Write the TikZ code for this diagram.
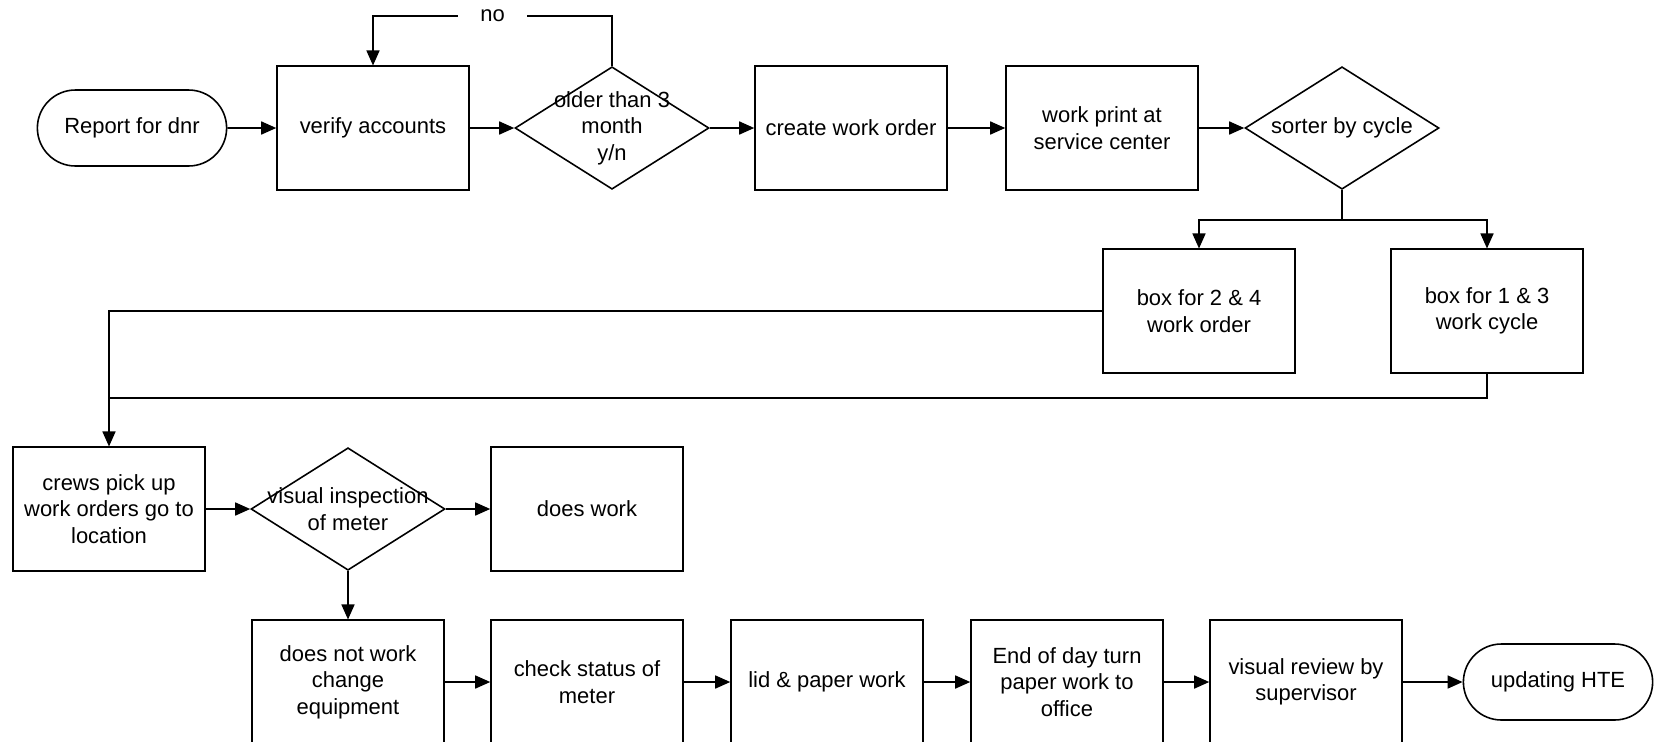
\documentclass[tikz,border=0pt]{standalone}
\usepackage{fontspec}
\setmainfont{Liberation Sans}
\usetikzlibrary{shapes.geometric,shapes.misc,arrows.meta}
\begin{document}
\begin{tikzpicture}[x=0.02cm,y=-0.02cm,line width=0.9pt,
        >={Triangle[length=0.3cm,width=0.26cm]},
        every node/.style={font=\fontsize{12.5}{15}\selectfont,align=center},
        process/.style={draw,rectangle,minimum width=3.84cm,minimum height=2.47cm,inner sep=0pt},
        decision/.style={draw,diamond,minimum width=3.88cm,minimum height=2.45cm,inner sep=0pt},
        terminal/.style={draw,rounded rectangle,minimum width=4.02cm,minimum height=1.52cm},
        nolabel/.style={fill=white,inner xsep=0.45cm,inner ysep=1pt}]
    \useasboundingbox (0,0) rectangle (1656,741);
    %% Top row
    \node[terminal] (report) at (132,128) {Report for dnr};
    \node[process] (verify) at (373,128) {verify accounts};
    \node[decision,label={center:{older than 3\\month\\y/n}}] (older) at (612,128) {};
    \node[process] (create) at (851,128) {create work order};
    \node[process] (print) at (1102,128) {work print at\\service center};
    \node[decision,label={center:{sorter by cycle}}] (sorter) at (1342,128) {};
    %% Cycle boxes
    \node[process] (box24) at (1199,311) {box for 2 \& 4\\work order};
    \node[process] (box13) at (1487,311) {box for 1 \& 3\\work cycle};
    %% Field work
    \node[process] (crews) at (109,509) {crews pick up\\work orders go to\\location};
    \node[decision,label={center:{visual inspection\\of meter}}] (inspect) at (348,509) {};
    \node[process] (works) at (587,509) {does work};
    %% Bottom row
    \node[process] (notwork) at (348,682) {does not work\\change\\equipment};
    \node[process] (status) at (587,682) {check status of\\meter};
    \node[process] (lid) at (827,682) {lid \& paper work};
    \node[process] (endday) at (1067,682) {End of day turn\\paper work to\\office};
    \node[process] (review) at (1306,682) {visual review by\\supervisor};
    \node[terminal] (hte) at (1558,682) {updating HTE};
    \coordinate (split) at (1342,220);
    \coordinate (merge) at (109,398);
    %% Arrows
    \draw[->] (report) -- (verify);
    \draw[->] (verify) -- (older);
    \draw[->] (older) -- (create);
    \draw[->] (create) -- (print);
    \draw[->] (print) -- (sorter);
    \draw[->] (older.north) -- (older.north |- 0,16)
        -- node[nolabel] {no} (verify.north |- 0,16) -- (verify.north);
    \draw (sorter.south) -- (split);
    \draw[->] (split) -| (box24.north);
    \draw[->] (split) -| (box13.north);
    \draw[->] (box24.west) -| (crews.north);
    \draw (box13.south) |- (merge);
    \draw[->] (crews) -- (inspect);
    \draw[->] (inspect) -- (works);
    \draw[->] (inspect.south) -- (notwork.north);
    \draw[->] (notwork) -- (status);
    \draw[->] (status) -- (lid);
    \draw[->] (lid) -- (endday);
    \draw[->] (endday) -- (review);
    \draw[->] (review) -- (hte);
\end{tikzpicture}
\end{document}
